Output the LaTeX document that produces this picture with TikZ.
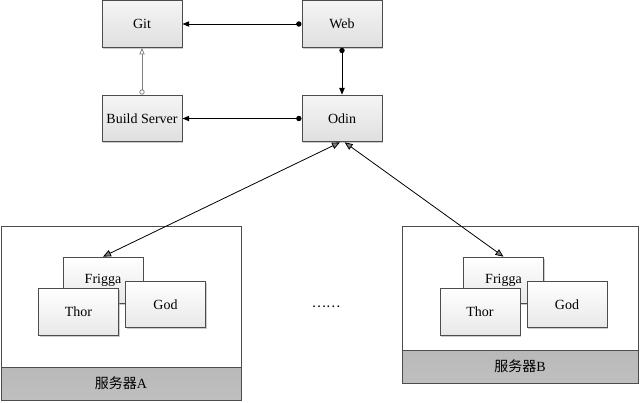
\documentclass[tikz,border=0pt]{standalone}
\usepackage{fontspec}
\setmainfont{Liberation Serif}
\newfontfamily\cjk{Noto Sans CJK SC}
\usetikzlibrary{arrows.meta,shadows}

\tikzset{every picture/.style={line width=0.75pt}}
\tikzset{
  topbox/.style={draw=black!70, top color=gray!8, bottom color=gray!25,
    drop shadow={shadow xshift=1pt,shadow yshift=-1pt,fill=black!40},
    minimum width=60pt, minimum height=35pt, inner sep=0pt,
    font=\fontsize{10.5}{12}\selectfont},
  procbox/.style={topbox, top color=white, bottom color=gray!18},
  srvbox/.style={draw=black!70, line width=0.6pt},
  srvband/.style={draw=black!70, line width=0.6pt, top color=gray!55, middle color=gray!25, bottom color=gray!50},
  link/.style={{Circle[length=4pt]}-{Triangle[length=5pt,width=4pt]}, line width=0.7pt},
  build/.style={black!50, line width=0.6pt, {Circle[open,length=4pt]}-{Triangle[open,length=5pt,width=4pt]}},
  deploy/.style={line width=0.6pt, {Triangle[length=6pt,width=5pt,fill=gray]}-{Triangle[length=6pt,width=5pt,fill=gray]}},
}

\begin{document}
\begin{tikzpicture}[x=0.75pt,y=0.75pt,yscale=-1,xscale=1]
	\useasboundingbox (0,0) rectangle (640,403);

	%Shape: Rectangle [server A]
	\draw [srvbox] (1,226) rectangle (241,400) ;
	\draw [srvband] (1,367) rectangle (241,400) ;
	%Shape: Rectangle [server B]
	\draw [srvbox] (402,226) rectangle (638,383) ;
	\draw [srvband] (402,350) rectangle (638,383) ;

	% Top boxes
	\node [topbox] (git) at (142,24) {Git};
	\node [topbox] (web) at (342,24) {Web};
	\node [topbox] (build) at (142,118.5) {Build Server};
	\node [topbox] (odin) at (342,118.5) {Odin};

	% Processes on server A
	\node [procbox] (friggaA) at (103,280.5) {Frigga};
	\node [procbox] (thorA) at (78.5,312) {Thor};
	\node [procbox] (godA) at (165.5,304.5) {God};
	% Processes on server B
	\node [procbox] (friggaB) at (503.5,280.5) {Frigga};
	\node [procbox] (thorB) at (480,312) {Thor};
	\node [procbox] (godB) at (567,304.5) {God};

	% Text Node
	\node [font=\fontsize{10.5}{12}\selectfont] (srvA) at (121,383.5) {{\cjk 服务器}A};
	% Text Node
	\node [font=\fontsize{10.5}{12}\selectfont] (srvB) at (520,366.5) {{\cjk 服务器}B};
	% Text Node
	\node [font=\cjk\fontsize{10}{12}\selectfont] (more) at (326,307) {……};

	%Connectors
	\draw [link] (web.west) -- (git.east) ;
	\draw [link] (web.south) -- (odin.north) ;
	\draw [link] (odin.west) -- (build.east) ;
	\draw [build] (build.north) -- (git.south) ;
	\draw [deploy] ([xshift=-1.5pt]odin.south) -- (friggaA.north) ;
	\draw [deploy] ([xshift=2pt]odin.south) -- (friggaB.north) ;

\end{tikzpicture}
\end{document}
